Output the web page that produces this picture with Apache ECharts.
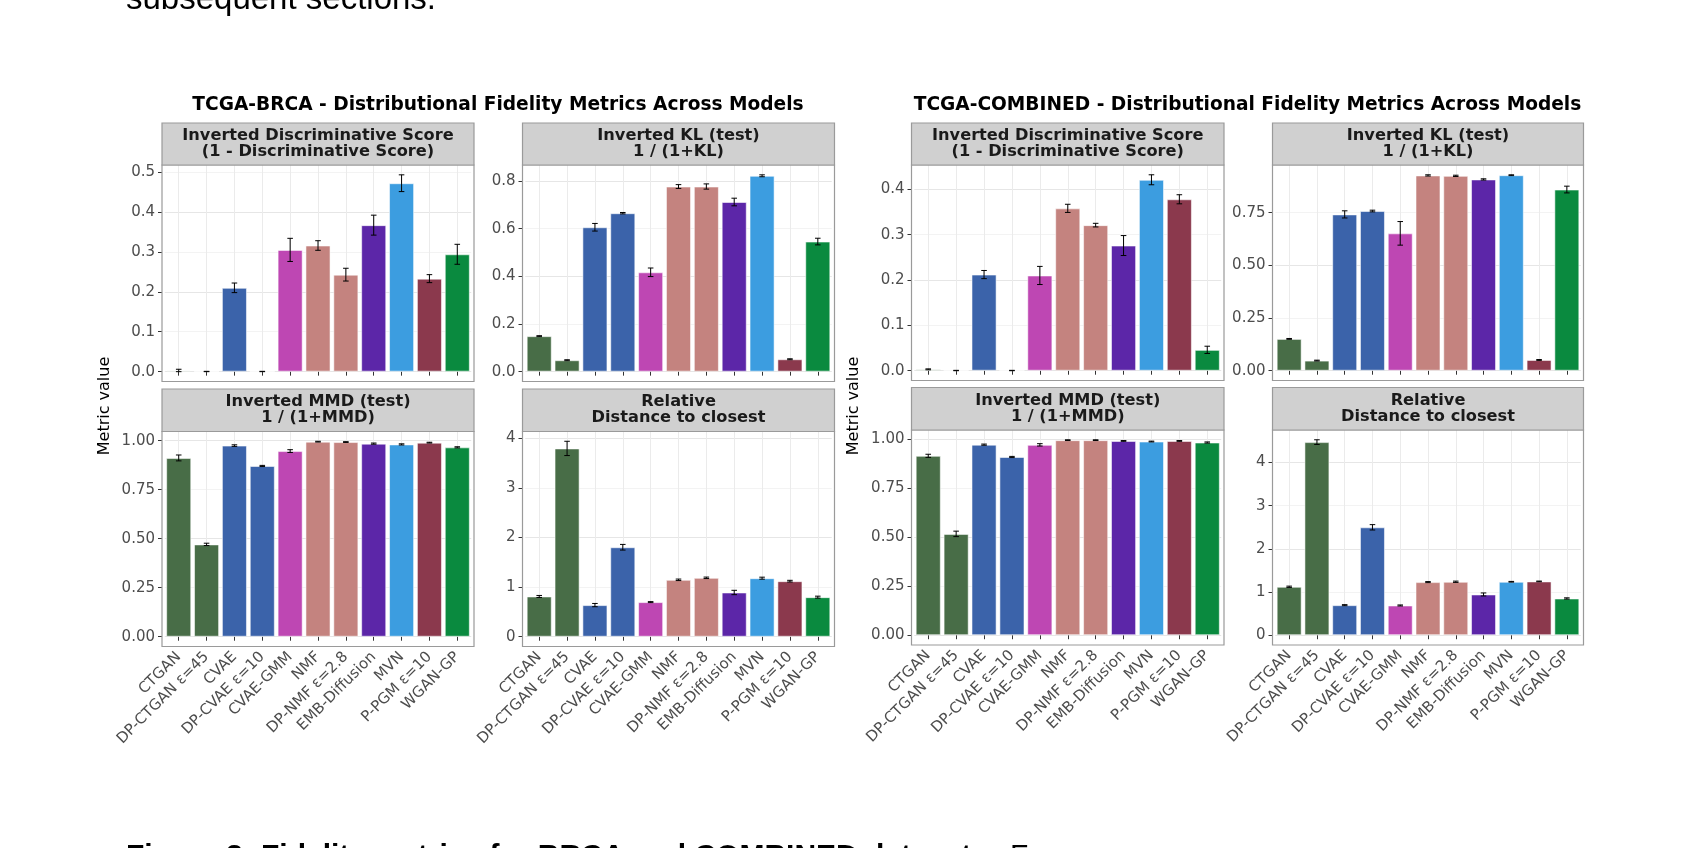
<!DOCTYPE html>
<html>
<head>
<meta charset="utf-8">
<script src="https://cdn.jsdelivr.net/npm/echarts@6/dist/echarts.min.js"></script>
<style>
html, body { margin: 0; padding: 0; background: #fff; }
#chart { width: 1681px; height: 848px; }
</style>
</head>
<body>
<div id="chart"></div>
<script>
// categories and their fill colours
var models = ['CTGAN', 'DP-CTGAN ε=45', 'CVAE', 'DP-CVAE ε=10', 'CVAE-GMM', 'NMF',
  'DP-NMF ε=2.8', 'EMB-Diffusion', 'MVN', 'P-PGM ε=10', 'WGAN-GP'];
var modelColors = ['#486d47', '#486d47', '#3b63aa', '#3b63aa', '#be47b3', '#c4837f',
  '#c4837f', '#5c26a8', '#3c9de0', '#8b394d', '#0a8a3f'];

// TCGA-BRCA (mean, error half-width)
var brcaDisc = [0.003, 0.0004, 0.210, 0.0004, 0.305, 0.316, 0.243, 0.367, 0.472, 0.233, 0.294];
var brcaDiscErr = [0.003, 0.0004, 0.012, 0.0004, 0.029, 0.012, 0.016, 0.025, 0.021, 0.010, 0.025];
var brcaKl = [0.149, 0.048, 0.606, 0.665, 0.417, 0.777, 0.777, 0.712, 0.822, 0.052, 0.546];
var brcaKlErr = [0.002, 0.002, 0.016, 0.003, 0.018, 0.008, 0.011, 0.016, 0.004, 0.002, 0.014];
var brcaMmd = [0.912, 0.471, 0.975, 0.871, 0.947, 0.995, 0.993, 0.985, 0.981, 0.990, 0.966];
var brcaMmdErr = [0.015, 0.006, 0.004, 0.003, 0.007, 0.002, 0.002, 0.003, 0.003, 0.002, 0.003];
var brcaDcr = [0.811, 3.792, 0.637, 1.802, 0.697, 1.146, 1.186, 0.891, 1.179, 1.119, 0.797];
var brcaDcrErr = [0.02, 0.144, 0.033, 0.057, 0.01, 0.015, 0.015, 0.044, 0.02, 0.017, 0.02];

// TCGA-COMBINED
var combDisc = [0.003, 0.0004, 0.212, 0.0004, 0.210, 0.358, 0.321, 0.276, 0.421, 0.378, 0.046];
var combDiscErr = [0.001, 0.0004, 0.009, 0.0004, 0.020, 0.009, 0.004, 0.022, 0.011, 0.010, 0.008];
var combKl = [0.151, 0.048, 0.742, 0.758, 0.652, 0.927, 0.925, 0.908, 0.928, 0.051, 0.860];
var combKlErr = [0.002, 0.002, 0.017, 0.004, 0.056, 0.003, 0.003, 0.003, 0.002, 0.002, 0.016];
var combMmd = [0.917, 0.518, 0.974, 0.911, 0.973, 0.997, 0.997, 0.993, 0.990, 0.993, 0.985];
var combMmdErr = [0.008, 0.014, 0.003, 0.003, 0.006, 0.002, 0.002, 0.002, 0.002, 0.002, 0.003];
var combDcr = [1.122, 4.472, 0.696, 2.499, 0.689, 1.230, 1.238, 0.944, 1.238, 1.246, 0.851];
var combDcrErr = [0.015, 0.054, 0.012, 0.062, 0.012, 0.012, 0.015, 0.035, 0.008, 0.008, 0.015];

// y tick labels
var ticksBrcaDisc = [0, 0.1, 0.2, 0.3, 0.4, 0.5];
var ticksBrcaKl = [0, 0.2, 0.4, 0.6, 0.8];
var ticksMmd = [0, 0.25, 0.5, 0.75, 1];
var ticksDcr = [0, 1, 2, 3, 4];
var ticksCombDisc = [0, 0.1, 0.2, 0.3, 0.4];
var ticksCombKl = [0, 0.25, 0.5, 0.75];

var stripDisc = ['Inverted Discriminative Score', '(1 - Discriminative Score)'];
var stripKl = ['Inverted KL (test)', '1 / (1+KL)'];
var stripMmd = ['Inverted MMD (test)', '1 / (1+MMD)'];
var stripDcr = ['Relative', 'Distance to closest'];

var FONT = 'DejaVu Sans';

// panel boxes (x0,x1 = panel sides, sTop = strip top, pTop/pBot = plot area)
var panels = [
  { x0: 162, x1: 474, sTop: 123, pTop: 165, pBot: 381.5, mean: brcaDisc, err: brcaDiscErr, ticks: ticksBrcaDisc, dec: 1, strip: stripDisc, bottom: false },
  { x0: 522.5, x1: 834.5, sTop: 123, pTop: 165, pBot: 381.5, mean: brcaKl, err: brcaKlErr, ticks: ticksBrcaKl, dec: 1, strip: stripKl, bottom: false },
  { x0: 162, x1: 474, sTop: 389, pTop: 431.5, pBot: 646.5, mean: brcaMmd, err: brcaMmdErr, ticks: ticksMmd, dec: 2, strip: stripMmd, bottom: true },
  { x0: 522.5, x1: 834.5, sTop: 389, pTop: 431.5, pBot: 646.5, mean: brcaDcr, err: brcaDcrErr, ticks: ticksDcr, dec: 0, strip: stripDcr, bottom: true },
  { x0: 911.5, x1: 1224, sTop: 123, pTop: 165, pBot: 380.5, mean: combDisc, err: combDiscErr, ticks: ticksCombDisc, dec: 1, strip: stripDisc, bottom: false },
  { x0: 1272.5, x1: 1583.5, sTop: 123, pTop: 165, pBot: 380.5, mean: combKl, err: combKlErr, ticks: ticksCombKl, dec: 2, strip: stripKl, bottom: false },
  { x0: 911.5, x1: 1224, sTop: 387.5, pTop: 430, pBot: 645, mean: combMmd, err: combMmdErr, ticks: ticksMmd, dec: 2, strip: stripMmd, bottom: true },
  { x0: 1272.5, x1: 1583.5, sTop: 387.5, pTop: 430, pBot: 645, mean: combDcr, err: combDcrErr, ticks: ticksDcr, dec: 0, strip: stripDcr, bottom: true }
];

var grids = [], xAxes = [], yAxes = [], series = [], graphics = [];

panels.forEach(function (p, i) {
  var w = p.x1 - p.x0, h = p.pBot - p.pTop;
  var unit = w / 11.2;           // ggplot discrete expansion of 0.6 each side
  var inset = 0.1 * unit;
  var gap = h * 0.05 / 1.1;      // 5% expansion below zero
  var top = 0;
  p.mean.forEach(function (v, k) { top = Math.max(top, v + p.err[k]); });

  grids.push({ left: p.x0 + inset, top: p.pTop, width: w - 2 * inset, height: h - gap, containLabel: false });

  xAxes.push({
    type: 'category', gridIndex: i, data: models, boundaryGap: true, offset: gap,
    axisLine: { show: false },
    axisTick: { show: true, alignWithLabel: true, interval: 0, length: 4, lineStyle: { color: '#333' } },
    axisLabel: { show: p.bottom, interval: 0, rotate: 45, margin: 8, color: '#4d4d4d', fontSize: 15, fontFamily: FONT },
    splitLine: { show: true, interval: 0, alignWithLabel: true, lineStyle: { color: '#ebebeb', width: 1 } }
  });

  var dec = p.dec;
  yAxes.push({
    type: 'value', gridIndex: i, min: 0, max: top * 1.05,
    interval: (p.ticks[1] - p.ticks[0]) / 2, offset: inset,
    axisLine: { show: false },
    axisTick: { show: true, length: 4, lineStyle: { color: '#333' }, customValues: p.ticks },
    axisLabel: { customValues: p.ticks, margin: 7, color: '#4d4d4d', fontSize: 15, fontFamily: FONT,
      formatter: function (v) { return v.toFixed(dec); } },
    splitLine: { show: true, lineStyle: { color: ['#e6e6e6', '#f3f3f3'], width: 1 } }
  });

  series.push({
    type: 'bar', xAxisIndex: i, yAxisIndex: i, barWidth: '90%',
    data: p.mean.map(function (v, k) {
      return { value: v, itemStyle: { color: modelColors[k] } };
    }),
    itemStyle: { borderColor: 'rgba(255,255,255,0.55)', borderWidth: 1 },
    silent: true, z: 3
  });

  series.push({
    type: 'custom', xAxisIndex: i, yAxisIndex: i, z: 5, silent: true,
    data: p.mean.map(function (v, k) { return [k, v - p.err[k], v + p.err[k]]; }),
    encode: { x: 0, y: [1, 2] },
    renderItem: function (params, api) {
      var lo = api.coord([api.value(0), api.value(1)]);
      var hi = api.coord([api.value(0), api.value(2)]);
      var hw = api.size([1, 0])[0] * 0.1;
      var st = { stroke: '#000', lineWidth: 1 };
      return {
        type: 'group', children: [
          { type: 'line', shape: { x1: lo[0], y1: lo[1], x2: hi[0], y2: hi[1] }, style: st },
          { type: 'line', shape: { x1: lo[0] - hw, y1: lo[1], x2: lo[0] + hw, y2: lo[1] }, style: st },
          { type: 'line', shape: { x1: hi[0] - hw, y1: hi[1], x2: hi[0] + hw, y2: hi[1] }, style: st }
        ]
      };
    }
  });

  // panel border + strip
  graphics.push({ type: 'rect', z: 20, silent: true,
    shape: { x: p.x0, y: p.pTop, width: w, height: h },
    style: { fill: 'none', stroke: '#9a9a9a', lineWidth: 1.2 } });
  graphics.push({ type: 'rect', z: 20, silent: true,
    shape: { x: p.x0, y: p.sTop, width: w, height: p.pTop - p.sTop },
    style: { fill: '#d0d0d0', stroke: '#9a9a9a', lineWidth: 1.2 } });
  var cy = (p.sTop + p.pTop) / 2;
  p.strip.forEach(function (line, j) {
    graphics.push({ type: 'text', z: 21, silent: true,
      style: { text: line, x: (p.x0 + p.x1) / 2, y: cy + (j === 0 ? -8 : 8), align: 'center', verticalAlign: 'middle',
        font: 'bold 16.2px "DejaVu Sans"', fill: '#1a1a1a' } });
  });
});

// group titles and y axis titles
[['TCGA-BRCA - Distributional Fidelity Metrics Across Models', 498, 105],
 ['TCGA-COMBINED - Distributional Fidelity Metrics Across Models', 1247.5, 105]].forEach(function (t) {
  graphics.push({ type: 'text', z: 21, silent: true,
    style: { text: t[0], x: t[1], y: t[2], align: 'center', verticalAlign: 'middle',
      font: 'bold 18.6px "DejaVu Sans"', fill: '#000' } });
});
[105, 854].forEach(function (x) {
  graphics.push({ type: 'text', z: 21, silent: true, x: x, y: 406, rotation: Math.PI / 2,
    style: { text: 'Metric value', x: 0, y: 0, align: 'center', verticalAlign: 'middle',
      font: '16px "DejaVu Sans"', fill: '#000' } });
});

// surrounding page text (cut off at the edges)
graphics.push({ type: 'text', silent: true,
  style: { text: 'subsequent sections.', x: 126, y: 16, align: 'left', verticalAlign: 'bottom',
    font: '33px "Liberation Sans"', fill: '#000' } });
graphics.push({ type: 'text', silent: true,
  style: { text: 'Figure 3: Fidelity metrics for BRCA and COMBINED datasets.', x: 126, y: 842, align: 'left', verticalAlign: 'top',
    font: 'bold 30px "Liberation Sans"', fill: '#000' } });
graphics.push({ type: 'text', silent: true,
  style: { text: 'For', x: 1010, y: 842, align: 'left', verticalAlign: 'top',
    font: '30px "Liberation Sans"', fill: '#000' } });

var chart = echarts.init(document.getElementById('chart'), null, { renderer: 'canvas' });
chart.setOption({
  backgroundColor: '#fff',
  animation: false,
  grid: grids,
  xAxis: xAxes,
  yAxis: yAxes,
  series: series,
  graphic: { elements: graphics }
});
</script>
</body>
</html>
